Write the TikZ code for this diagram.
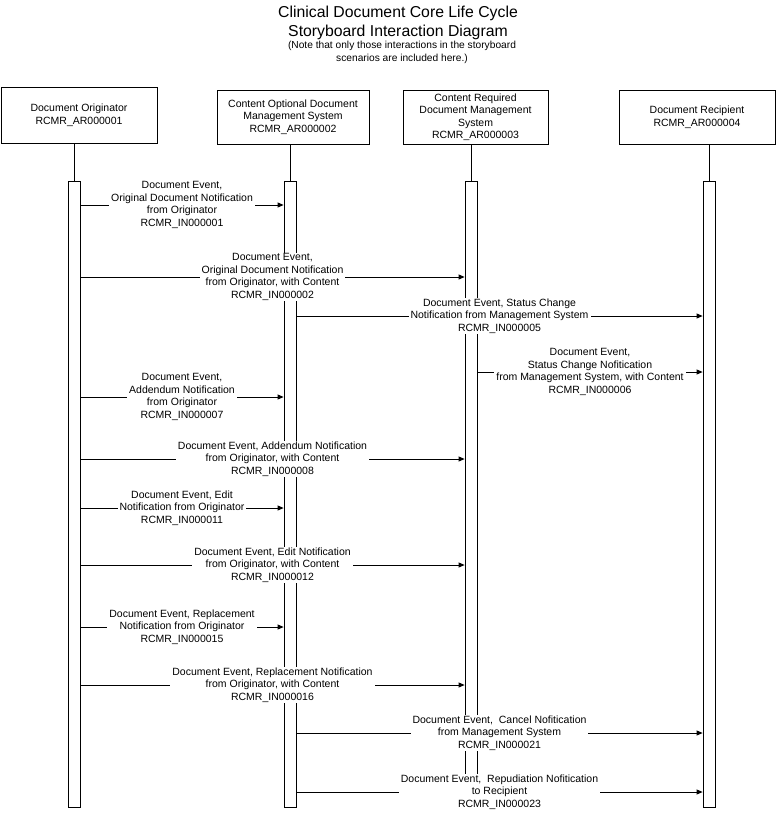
\documentclass[tikz,border=0pt]{standalone}
\usepackage{fontspec}
\setmainfont{Liberation Sans}
\usetikzlibrary{positioning,arrows.meta}

\newcommand\lblfont{\fontsize{10.5}{12.5}\selectfont}

\tikzset{
  actor/.style={draw, line width=0.8pt, align=center, font=\lblfont, inner sep=0pt},
  actbar/.style={draw, line width=0.8pt, fill=white, minimum width=12pt, minimum height=626pt, inner sep=0pt},
  life/.style={line width=0.8pt},
  msg/.style={line width=0.8pt, -{Triangle[length=6pt,width=5pt]}},
  msglbl/.style={fill=white, align=center, font=\lblfont, inner xsep=2pt, inner ysep=1pt}
}

\begin{document}
\begin{tikzpicture}[x=1pt, y=-1pt]
\useasboundingbox (0,0) rectangle (776,813);

% Title
\node[align=center, font=\fontsize{15.8}{19.4}\selectfont] (title) at (398,22.9)
  {Clinical Document Core Life Cycle\\Storyboard Interaction Diagram};
\node[align=center, font=\fontsize{10.2}{13.6}\selectfont] (note) at (402,52.2)
  {(Note that only those interactions in the storyboard\\scenarios are included here.)};

% Actors
\node[actor, minimum width=156pt, minimum height=56pt] (orig) at (79,115)
  {Document Originator\\RCMR\_AR000001};
\node[actor, minimum width=152pt, minimum height=54pt] (optsys) at (293,117)
  {Content Optional Document\\Management System\\RCMR\_AR000002};
\node[actor, minimum width=145pt, minimum height=54pt] (reqsys) at (475.5,117)
  {Content Required\\Document Management\\System\\RCMR\_AR000003};
\node[actor, minimum width=156pt, minimum height=54pt] (recip) at (697,117)
  {Document Recipient\\RCMR\_AR000004};

% Activation bars
\node[actbar] (origbar) at (74,494) {};
\node[actbar] (optbar) at (290,494) {};
\node[actbar] (reqbar) at (471,494) {};
\node[actbar] (recipbar) at (709,494) {};

% Lifelines
\draw[life] (origbar.north |- orig.south) -- (origbar.north);
\draw[life] (optbar.north |- optsys.south) -- (optbar.north);
\draw[life] (reqbar.north |- reqsys.south) -- (reqbar.north);
\draw[life] (recipbar.north |- recip.south) -- (recipbar.north);

% Messages
\draw[msg] (origbar.east |- 0,205) -- node[msglbl] (m1)
  {Document Event,\\Original Document Notification\\from Originator\\RCMR\_IN000001} (optbar.west |- 0,205);
\draw[msg] (origbar.east |- 0,277) -- node[msglbl] (m2)
  {Document Event,\\Original Document Notification\\from Originator, with Content\\RCMR\_IN000002} (reqbar.west |- 0,277);
\draw[msg] (optbar.east |- 0,316) -- node[msglbl] (m3)
  {Document Event, Status Change\\Notification from Management System\\RCMR\_IN000005} (recipbar.west |- 0,316);
\draw[msg] (reqbar.east |- 0,372) -- node[msglbl] (m4)
  {Document Event,\\Status Change Nofitication\\from Management System, with Content\\RCMR\_IN000006} (recipbar.west |- 0,372);
\draw[msg] (origbar.east |- 0,397) -- node[msglbl] (m5)
  {Document Event,\\Addendum Notification\\from Originator\\RCMR\_IN000007} (optbar.west |- 0,397);
\draw[msg] (origbar.east |- 0,459) -- node[msglbl] (m6)
  {Document Event, Addendum Notification\\from Originator, with Content\\RCMR\_IN000008} (reqbar.west |- 0,459);
\draw[msg] (origbar.east |- 0,508) -- node[msglbl] (m7)
  {Document Event, Edit\\Notification from Originator\\RCMR\_IN000011} (optbar.west |- 0,508);
\draw[msg] (origbar.east |- 0,565) -- node[msglbl] (m8)
  {Document Event, Edit Notification\\from Originator, with Content\\RCMR\_IN000012} (reqbar.west |- 0,565);
\draw[msg] (origbar.east |- 0,627) -- node[msglbl] (m9)
  {Document Event, Replacement\\Notification from Originator\\RCMR\_IN000015} (optbar.west |- 0,627);
\draw[msg] (origbar.east |- 0,685) -- node[msglbl] (m10)
  {Document Event, Replacement Notification\\from Originator, with Content\\RCMR\_IN000016} (reqbar.west |- 0,685);
\draw[msg] (optbar.east |- 0,733) -- node[msglbl] (m11)
  {Document Event,\ \ Cancel Nofitication\\from Management System\\RCMR\_IN000021} (recipbar.west |- 0,733);
\draw[msg] (optbar.east |- 0,792) -- node[msglbl] (m12)
  {Document Event,\ \ Repudiation Nofitication\\to Recipient\\RCMR\_IN000023} (recipbar.west |- 0,792);

\end{tikzpicture}
\end{document}
